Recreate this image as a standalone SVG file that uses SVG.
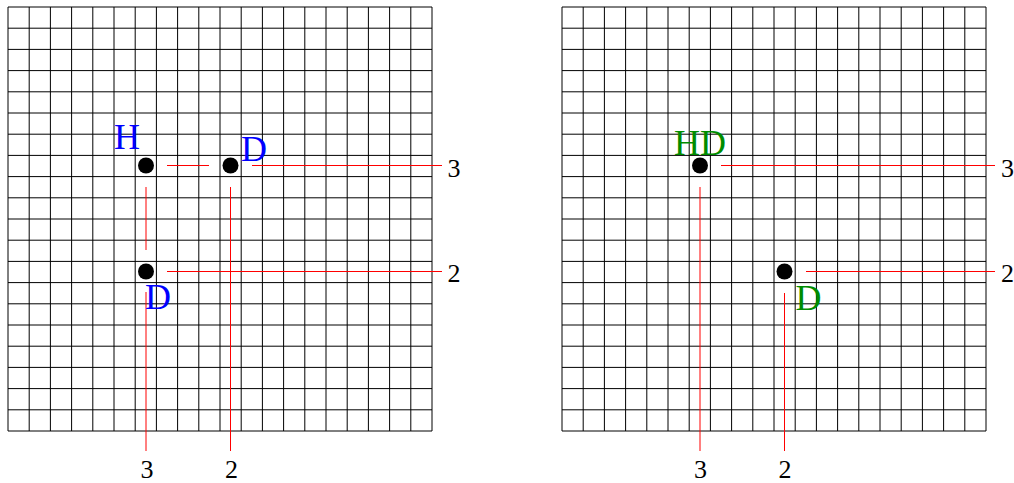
<svg xmlns="http://www.w3.org/2000/svg" width="1014" height="483" viewBox="0 0 1014 483">
<style>
.grid line{stroke:#000;stroke-width:1}
.conn line{stroke:#ff0000;stroke-width:1}
.stone{fill:#000}
.num{font-family:"Liberation Serif",serif;font-size:26px;fill:#000;text-anchor:middle}
.lblb{font-family:"Liberation Serif",serif;font-size:36px;fill:#0000ff;text-anchor:middle}
.lblg{font-family:"Liberation Serif",serif;font-size:36px;fill:#008c00;text-anchor:middle}
</style>
<defs>
<g id="grid" class="grid">
<line x1="0" y1="0" x2="424" y2="0"/><line x1="0" y1="21.2" x2="424" y2="21.2"/><line x1="0" y1="42.4" x2="424" y2="42.4"/><line x1="0" y1="63.6" x2="424" y2="63.6"/><line x1="0" y1="84.8" x2="424" y2="84.8"/><line x1="0" y1="106" x2="424" y2="106"/><line x1="0" y1="127.2" x2="424" y2="127.2"/><line x1="0" y1="148.4" x2="424" y2="148.4"/><line x1="0" y1="169.6" x2="424" y2="169.6"/><line x1="0" y1="190.8" x2="424" y2="190.8"/><line x1="0" y1="212" x2="424" y2="212"/><line x1="0" y1="233.2" x2="424" y2="233.2"/><line x1="0" y1="254.4" x2="424" y2="254.4"/><line x1="0" y1="275.6" x2="424" y2="275.6"/><line x1="0" y1="296.8" x2="424" y2="296.8"/><line x1="0" y1="318" x2="424" y2="318"/><line x1="0" y1="339.2" x2="424" y2="339.2"/><line x1="0" y1="360.4" x2="424" y2="360.4"/><line x1="0" y1="381.6" x2="424" y2="381.6"/><line x1="0" y1="402.8" x2="424" y2="402.8"/><line x1="0" y1="424" x2="424" y2="424"/>
<line x1="0" y1="0" x2="0" y2="424"/><line x1="21.2" y1="0" x2="21.2" y2="424"/><line x1="42.4" y1="0" x2="42.4" y2="424"/><line x1="63.6" y1="0" x2="63.6" y2="424"/><line x1="84.8" y1="0" x2="84.8" y2="424"/><line x1="106" y1="0" x2="106" y2="424"/><line x1="127.2" y1="0" x2="127.2" y2="424"/><line x1="148.4" y1="0" x2="148.4" y2="424"/><line x1="169.6" y1="0" x2="169.6" y2="424"/><line x1="190.8" y1="0" x2="190.8" y2="424"/><line x1="212" y1="0" x2="212" y2="424"/><line x1="233.2" y1="0" x2="233.2" y2="424"/><line x1="254.4" y1="0" x2="254.4" y2="424"/><line x1="275.6" y1="0" x2="275.6" y2="424"/><line x1="296.8" y1="0" x2="296.8" y2="424"/><line x1="318" y1="0" x2="318" y2="424"/><line x1="339.2" y1="0" x2="339.2" y2="424"/><line x1="360.4" y1="0" x2="360.4" y2="424"/><line x1="381.6" y1="0" x2="381.6" y2="424"/><line x1="402.8" y1="0" x2="402.8" y2="424"/><line x1="424" y1="0" x2="424" y2="424"/>
</g>
</defs>
<use href="#grid" x="8" y="7"/>
<use href="#grid" x="562" y="7"/>
<g id="connectors" class="conn">
<line x1="167" y1="165.5" x2="209" y2="165.5"/>
<line x1="252" y1="165.5" x2="442" y2="165.5"/>
<line x1="167" y1="271.5" x2="442" y2="271.5"/>
<line x1="146" y1="187" x2="146" y2="250"/>
<line x1="146" y1="292" x2="146" y2="451"/>
<line x1="230.5" y1="187" x2="230.5" y2="451"/>
<line x1="721" y1="165.5" x2="995" y2="165.5"/>
<line x1="806" y1="271.5" x2="995" y2="271.5"/>
<line x1="700" y1="187" x2="700" y2="451"/>
<line x1="784.5" y1="293" x2="784.5" y2="451"/>
</g>
<g id="left-H"><circle class="stone" cx="146" cy="165.5" r="8"/><text class="lblb" x="127" y="149">H</text></g>
<g id="left-D1"><circle class="stone" cx="230.5" cy="165.5" r="8"/><text class="lblb" x="254" y="161">D</text></g>
<g id="left-D2"><circle class="stone" cx="146" cy="271.5" r="8"/><text class="lblb" x="158" y="309">D</text></g>
<g id="right-HD"><circle class="stone" cx="700" cy="165.5" r="8"/><text class="lblg" x="700" y="155">HD</text></g>
<g id="right-D"><circle class="stone" cx="784.5" cy="271.5" r="8"/><text class="lblg" x="808.5" y="310">D</text></g>
<g id="labels">
<text class="num" x="454" y="177">3</text>
<text class="num" x="454" y="282">2</text>
<text class="num" x="147" y="478">3</text>
<text class="num" x="231.5" y="478">2</text>
<text class="num" x="1007.5" y="177">3</text>
<text class="num" x="1007.5" y="282">2</text>
<text class="num" x="700.5" y="478">3</text>
<text class="num" x="785" y="478">2</text>
</g>
</svg>
